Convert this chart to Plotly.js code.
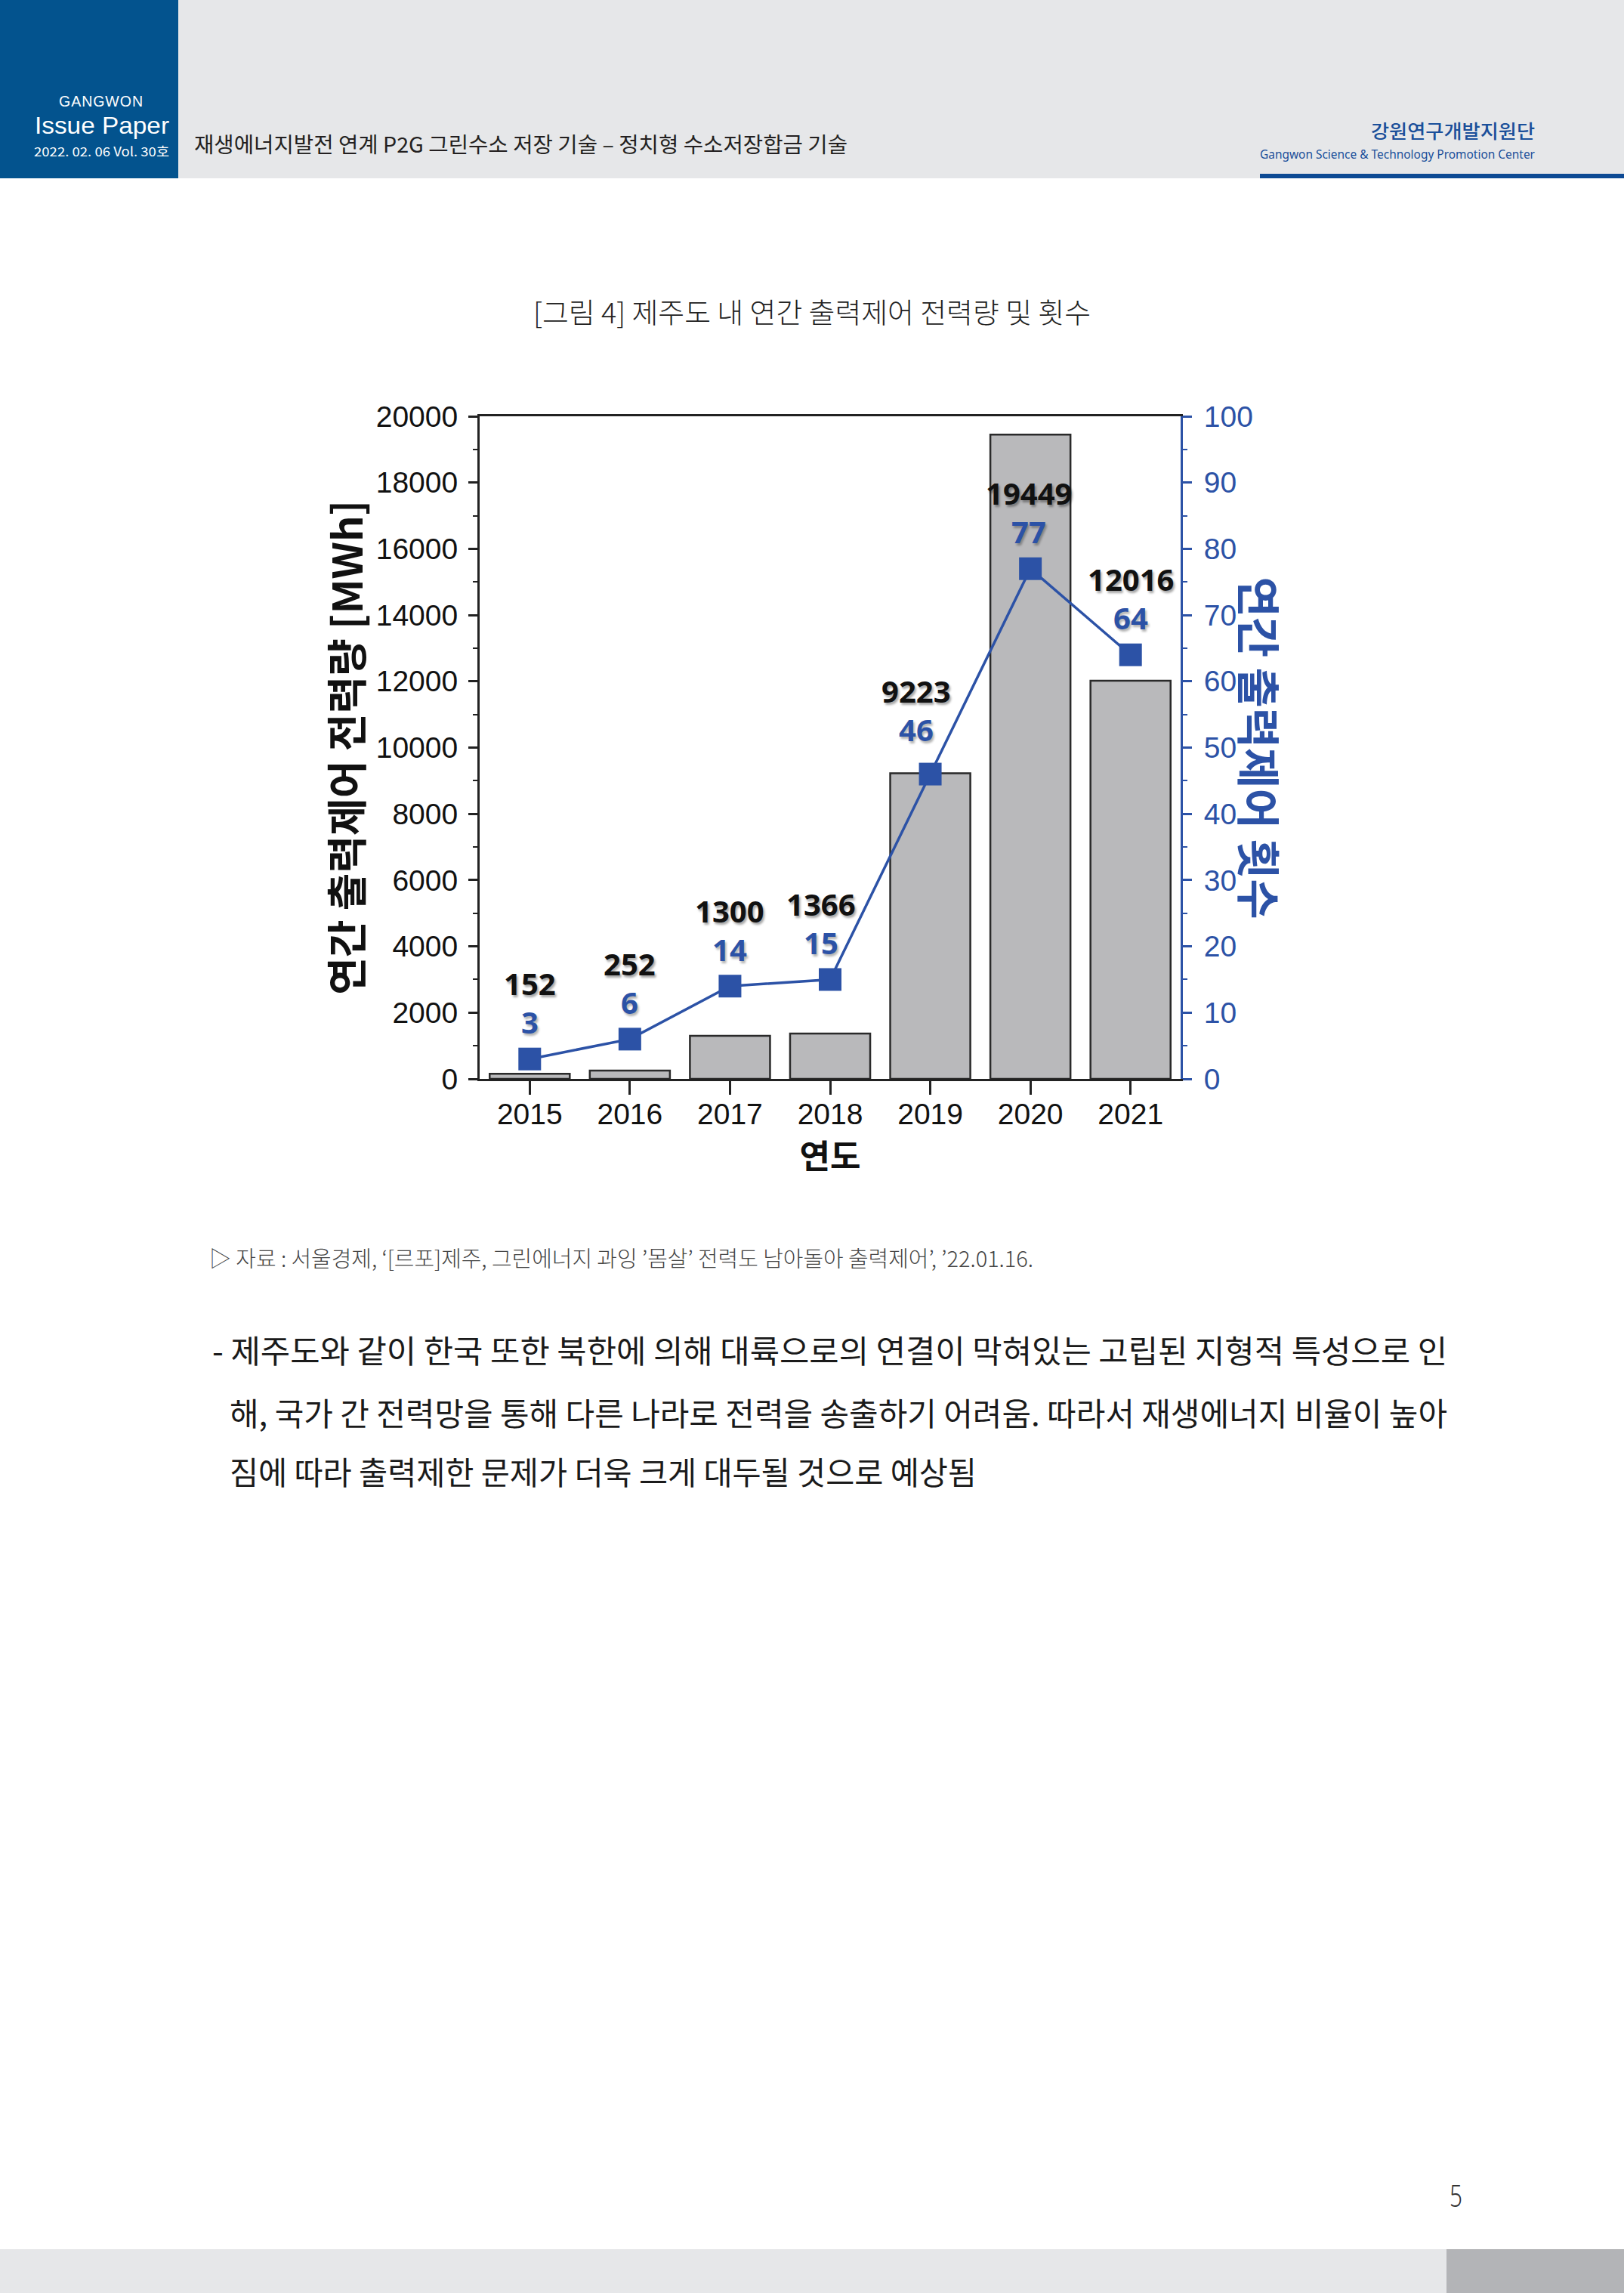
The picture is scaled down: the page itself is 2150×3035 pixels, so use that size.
<!DOCTYPE html>
<html>
<head>
<meta charset="utf-8">
<script src="https://cdn.plot.ly/plotly-3.0.1.min.js"></script>
<style>
  html, body { margin:0; padding:0; }
  body { width:2150px; height:3035px; position:relative; background:#ffffff; overflow:hidden; font-family:"Noto Sans CJK KR","Noto Sans",sans-serif; }
  .blk { position:absolute; }
  .t { position:absolute; white-space:nowrap; line-height:1; display:inline-block; transform-origin:0 50%; }
  #chart { position:absolute; left:380px; top:520px; width:1400px; height:1080px; }
</style>
</head>
<body>
<!-- header -->
<div class="blk" style="left:0;top:0;width:2150px;height:236px;background:#e6e7e9"></div>
<div class="blk" style="left:0;top:0;width:236px;height:236px;background:#03538e"></div>
<div class="blk" style="left:1668px;top:230px;width:482px;height:6px;background:#0d4a94"></div>

<div class="t" data-w="112" data-cy="133" style="left:78px;font-family:'Liberation Sans';font-size:21px;color:#fff;letter-spacing:1px">GANGWON</div>
<div class="t" data-w="178" data-cy="166" style="left:46px;font-family:'Liberation Sans';font-size:32px;color:#fff">Issue Paper</div>
<div class="t" data-w="179" data-cy="199" style="left:45px;font-size:17px;color:#fff">2022. 02. 06 Vol. 30호</div>
<div class="t" data-w="865" data-cy="190" style="left:257px;font-size:28px;color:#231f20">재생에너지발전 연계 P2G 그린수소 저장 기술 – 정치형 수소저장합금 기술</div>
<div class="t" data-w="217" data-cy="172" style="left:1815px;font-size:25px;color:#1a4f9a;font-weight:500">강원연구개발지원단</div>
<div class="t" data-w="364" data-cy="203" style="left:1668px;font-family:'Noto Sans';font-size:17px;color:#1a4f9a">Gangwon Science &amp; Technology Promotion Center</div>

<!-- caption -->
<div class="t" data-w="738" data-cy="412" style="left:706px;font-size:37px;color:#222;font-weight:300">[그림 4] 제주도 내 연간 출력제어 전력량 및 횟수</div>

<div id="chart"></div>

<!-- source and body -->
<div class="t" data-w="1091" data-cy="1664" style="left:277px;font-size:29px;color:#444;font-weight:300">▷ 자료 : 서울경제, ‘[르포]제주, 그린에너지 과잉 ’몸살’ 전력도 남아돌아 출력제어’, ’22.01.16.</div>
<div class="t" data-w="1635" data-cy="1786" style="left:281px;font-size:42px;color:#1a1a1a">- 제주도와 같이 한국 또한 북한에 의해 대륙으로의 연결이 막혀있는 고립된 지형적 특성으로 인</div>
<div class="t" data-w="1612" data-cy="1869" style="left:304px;font-size:42px;color:#1a1a1a">해, 국가 간 전력망을 통해 다른 나라로 전력을 송출하기 어려움. 따라서 재생에너지 비율이 높아</div>
<div class="t" data-w="989" data-cy="1947" style="left:304px;font-size:42px;color:#1a1a1a">짐에 따라 출력제한 문제가 더욱 크게 대두될 것으로 예상됨</div>

<!-- footer -->
<div class="t" data-w="17" data-cy="2906" style="left:1919px;font-family:'Noto Sans';font-size:40px;color:#333;font-weight:300">5</div>
<div class="blk" style="left:0;top:2977px;width:1915px;height:58px;background:#e6e7e9"></div>
<div class="blk" style="left:1915px;top:2977px;width:235px;height:58px;background:#b3b4b7"></div>

<script>
// ---- data ----
var years = ['2015', '2016', '2017', '2018', '2019', '2020', '2021'];
var energyMWh = [152, 252, 1300, 1366, 9223, 19449, 12016];
var curtailCount = [3, 6, 14, 15, 46, 77, 64];
var leftTitle = '연간 출력제어 전력량 [MWh]';
var rightTitle = '연간 출력제어 횟수';
var xTitle = '연도';

// ---- style ----
var BLUE = '#2c52a6';
var TICKFONT = 'Liberation Sans, Arial, sans-serif';
var KFONT = 'Noto Sans CJK KR, sans-serif';
var labelXShift = [0, 0, 0, -12, -19, -2, 0];
var labelYExtra = [0, 0, 0, 0, 10, 0, 0];

var bars = {
  type: 'bar', x: years, y: energyMWh, yaxis: 'y',
  marker: { color: '#b9b9bb', line: { color: '#2a2a2a', width: 2.5 } },
  hoverinfo: 'x+y'
};
var line = {
  type: 'scatter', mode: 'lines+markers', x: years, y: curtailCount, yaxis: 'y2',
  line: { color: BLUE, width: 3.5 },
  marker: { symbol: 'square', size: 30, color: BLUE },
  hoverinfo: 'x+y'
};

var annotations = [];
for (var i = 0; i < years.length; i++) {
  // category axes place annotations by category index
  annotations.push({
    xref: 'x', yref: 'y2', x: i, y: curtailCount[i],
    text: String(energyMWh[i]), showarrow: false, yshift: 100 + labelYExtra[i], xshift: labelXShift[i],
    font: { family: 'Noto Sans, sans-serif', size: 40, color: '#111', weight: 700, shadow: '2px 3px 3px rgba(0,0,0,0.35)' }
  });
  annotations.push({
    xref: 'x', yref: 'y2', x: i, y: curtailCount[i],
    text: String(curtailCount[i]), showarrow: false, yshift: 49 + labelYExtra[i], xshift: labelXShift[i],
    font: { family: 'Noto Sans, sans-serif', size: 40, color: BLUE, weight: 700, shadow: '2px 3px 3px rgba(0,0,0,0.3)' }
  });
}
annotations.push({
  xref: 'paper', yref: 'paper', x: 1, y: 0.5, xshift: 106, xanchor: 'center', yanchor: 'middle', textangle: 90,
  text: rightTitle, showarrow: false,
  font: { family: KFONT, size: 58, color: BLUE, weight: 700 }
});

var layout = {
  width: 1400, height: 1080,
  margin: { l: 255, r: 217, t: 31, b: 172 },
  paper_bgcolor: 'rgba(0,0,0,0)', plot_bgcolor: '#ffffff',
  showlegend: false, bargap: 0.2,
  xaxis: {
    type: 'category', range: [-0.5, 6.5], fixedrange: true,
    showline: true, linecolor: '#222', linewidth: 3, mirror: true,
    ticks: 'outside', ticklen: 18, tickwidth: 3, tickcolor: '#222',
    ticklabelstandoff: -8,
    showgrid: false, zeroline: false,
    tickfont: { family: TICKFONT, size: 39, color: '#111' },
    title: { text: xTitle, standoff: 0, font: { family: KFONT, size: 44, color: '#111', weight: 700 } }
  },
  yaxis: {
    range: [0, 20000], tick0: 0, dtick: 2000, fixedrange: true,
    tickformat: 'd', exponentformat: 'none',
    showline: true, linecolor: '#222', linewidth: 3,
    ticks: 'outside', ticklen: 12, tickwidth: 3, tickcolor: '#222',
    ticklabelstandoff: 6,
    minor: { dtick: 1000, ticks: 'outside', ticklen: 6, tickwidth: 2, tickcolor: '#222' },
    showgrid: false, zeroline: false,
    tickfont: { family: TICKFONT, size: 39, color: '#111' },
    title: { text: leftTitle, standoff: 0, font: { family: KFONT, size: 54, color: '#111', weight: 700 } }
  },
  yaxis2: {
    overlaying: 'y', side: 'right', range: [0, 100], tick0: 0, dtick: 10, fixedrange: true,
    showline: true, linecolor: BLUE, linewidth: 3,
    ticks: 'outside', ticklen: 12, tickwidth: 3, tickcolor: BLUE,
    ticklabelstandoff: 8,
    minor: { dtick: 5, ticks: 'outside', ticklen: 6, tickwidth: 2, tickcolor: BLUE },
    showgrid: false, zeroline: false,
    tickfont: { family: TICKFONT, size: 39, color: BLUE }
  },
  annotations: annotations
};

Plotly.newPlot('chart', [bars, line], layout, { displayModeBar: false, staticPlot: true });

function fitTexts() {
  var els = document.querySelectorAll('.t');
  els.forEach(function (el) {
    el.style.transform = 'none';
    var w = el.getBoundingClientRect().width;
    var h = el.getBoundingClientRect().height;
    var target = parseFloat(el.getAttribute('data-w'));
    var cy = parseFloat(el.getAttribute('data-cy'));
    el.style.top = (cy - h / 2) + 'px';
    if (w > 0 && target) el.style.transform = 'scaleX(' + (target / w) + ')';
  });
}
if (document.fonts && document.fonts.ready) { document.fonts.ready.then(fitTexts); } else { fitTexts(); }
fitTexts();
</script>
</body>
</html>
